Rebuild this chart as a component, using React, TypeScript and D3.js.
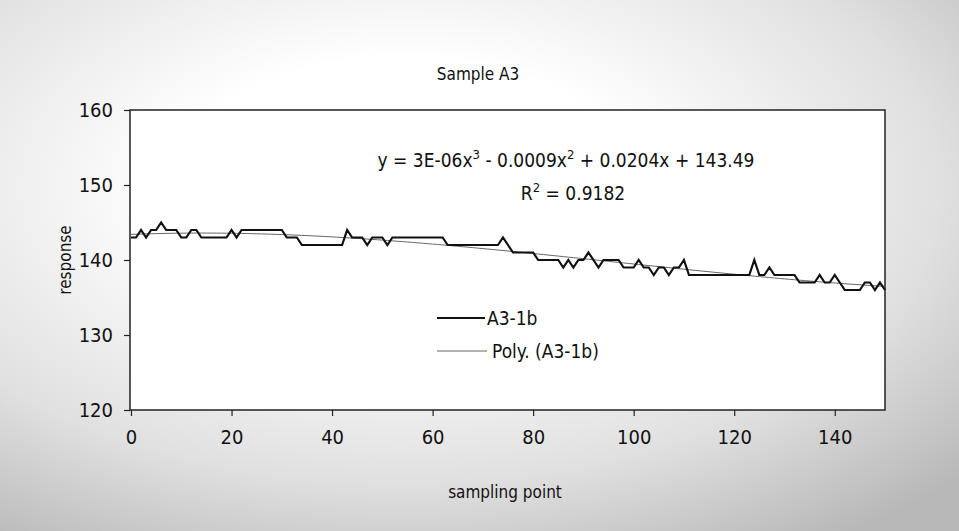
import React, { useEffect, useRef } from 'react';
import * as d3 from 'd3';

// A3-1b readings, one per sampling point (0..150)
const response = [
  143, 143, 144, 143, 144, 144, 145, 144, 144, 144,
  143, 143, 144, 144, 143, 143, 143, 143, 143, 143,
  144, 143, 144, 144, 144, 144, 144, 144, 144, 144,
  144, 143, 143, 143, 142, 142, 142, 142, 142, 142,
  142, 142, 142, 144, 143, 143, 143, 142, 143, 143,
  143, 142, 143, 143, 143, 143, 143, 143, 143, 143,
  143, 143, 143, 142, 142, 142, 142, 142, 142, 142,
  142, 142, 142, 142, 143, 142, 141, 141, 141, 141,
  141, 140, 140, 140, 140, 140, 139, 140, 139, 140,
  140, 141, 140, 139, 140, 140, 140, 140, 139, 139,
  139, 140, 139, 139, 138, 139, 139, 138, 139, 139,
  140, 138, 138, 138, 138, 138, 138, 138, 138, 138,
  138, 138, 138, 138, 140, 138, 138, 139, 138, 138,
  138, 138, 138, 137, 137, 137, 137, 138, 137, 137,
  138, 137, 136, 136, 136, 136, 137, 137, 136, 137,
  136
];
const xTicks = [0, 20, 40, 60, 80, 100, 120, 140];
const yTicks = [120, 130, 140, 150, 160];
const title = 'Sample A3';
const seriesName = 'A3-1b';
const trendName = 'Poly. (A3-1b)';

// least squares polynomial, same thing Excel's trendline does
function polyFit(xs: number[], ys: number[], deg: number) {
  const n = deg + 1;
  const m: number[][] = [];
  for (let r = 0; r < n; r++) {
    const row: number[] = [];
    for (let c = 0; c < n; c++) row.push(d3.sum(xs, (x) => Math.pow(x, r + c)));
    row.push(d3.sum(xs, (x, i) => Math.pow(x, r) * ys[i]));
    m.push(row);
  }
  for (let i = 0; i < n; i++) {
    let p = i;
    for (let k = i + 1; k < n; k++) if (Math.abs(m[k][i]) > Math.abs(m[p][i])) p = k;
    [m[i], m[p]] = [m[p], m[i]];
    for (let k = i + 1; k < n; k++) {
      const f = m[k][i] / m[i][i];
      for (let c = i; c <= n; c++) m[k][c] -= f * m[i][c];
    }
  }
  const coef = new Array(n).fill(0);
  for (let i = n - 1; i >= 0; i--) {
    let s = m[i][n];
    for (let c = i + 1; c < n; c++) s -= m[i][c] * coef[c];
    coef[i] = s / m[i][i];
  }
  return (x: number) => coef.reduce((acc, a, i) => acc + a * Math.pow(x, i), 0);
}

const W = 959, H = 531;
const FONT = '"DejaVu Sans Condensed", "DejaVu Sans", sans-serif';

export default function App() {
  const ref = useRef<SVGSVGElement>(null);

  useEffect(() => {
    const svg = d3.select(ref.current);
    svg.selectAll('*').remove();

    const left = 131, right = 885, top = 110, bottom = 410;
    const x = d3.scaleLinear().domain([0, 150]).range([left, right]);
    const y = d3.scaleLinear().domain([120, 160]).range([bottom, top]);

    const defs = svg.append('defs');
    const grad = defs.append('radialGradient').attr('id', 'bg')
      .attr('cx', '0.42').attr('cy', '0.35').attr('r', '0.8');
    grad.append('stop').attr('offset', '0.3').attr('stop-color', '#ffffff');
    grad.append('stop').attr('offset', '0.7').attr('stop-color', '#e0e0e0');
    grad.append('stop').attr('offset', '1').attr('stop-color', '#b8b8b8');
    svg.append('rect').attr('width', W).attr('height', H).attr('fill', 'url(#bg)');

    svg.append('rect')
      .attr('x', left - 1).attr('y', top)
      .attr('width', right - left + 1).attr('height', bottom - top)
      .attr('fill', '#fff').attr('stroke', '#222').attr('stroke-width', 1.5);

    const xs = response.map((_, i) => i);
    const fit = polyFit(xs, response, 3);

    const line = d3.line<number>().x((d, i) => x(i)).y((d) => y(d));
    const trendLine = d3.line<number>().x((d) => x(d)).y((d) => y(fit(d)));

    svg.append('path').datum(xs)
      .attr('d', trendLine)
      .attr('fill', 'none').attr('stroke', '#666').attr('stroke-width', 1);

    svg.append('path').datum(response)
      .attr('d', line)
      .attr('fill', 'none').attr('stroke', '#111').attr('stroke-width', 2.2)
      .attr('stroke-linejoin', 'miter');

    // axes
    const xAxis = svg.append('g').attr('transform', `translate(0,${bottom})`)
      .call(d3.axisBottom(x).tickValues(xTicks).tickSize(6).tickPadding(14).tickFormat(d3.format('d')));
    const yAxis = svg.append('g').attr('transform', `translate(${left - 1},0)`)
      .call(d3.axisLeft(y).tickValues(yTicks).tickSize(6).tickPadding(11).tickFormat(d3.format('d')));
    [xAxis, yAxis].forEach((g) => {
      g.select('.domain').remove();
      g.selectAll('line').attr('stroke', '#222').attr('stroke-width', 1.2);
      g.selectAll('text').attr('font-family', FONT).attr('font-size', 20).attr('fill', '#111');
    });

    svg.append('text').attr('x', 478).attr('y', 80).attr('text-anchor', 'middle')
      .attr('font-family', FONT).attr('font-size', 17).attr('fill', '#111').text(title);
    svg.append('text').attr('x', 505).attr('y', 498).attr('text-anchor', 'middle')
      .attr('font-family', FONT).attr('font-size', 17).attr('fill', '#111').text('sampling point');
    svg.append('text').attr('transform', 'translate(71,260) rotate(-90)').attr('text-anchor', 'middle')
      .attr('font-family', FONT).attr('font-size', 17).attr('fill', '#111').text('response');

    // equation label
    const eq = svg.append('text').attr('x', 566).attr('y', 167).attr('text-anchor', 'middle')
      .attr('font-family', FONT).attr('font-size', 19).attr('fill', '#111');
    eq.append('tspan').text('y = 3E-06x');
    eq.append('tspan').attr('dy', -8).attr('font-size', 13).text('3');
    eq.append('tspan').attr('dy', 8).text(' - 0.0009x');
    eq.append('tspan').attr('dy', -8).attr('font-size', 13).text('2');
    eq.append('tspan').attr('dy', 8).text(' + 0.0204x + 143.49');

    const r2 = svg.append('text').attr('x', 573).attr('y', 200).attr('text-anchor', 'middle')
      .attr('font-family', FONT).attr('font-size', 19).attr('fill', '#111');
    r2.append('tspan').text('R');
    r2.append('tspan').attr('dy', -8).attr('font-size', 13).text('2');
    r2.append('tspan').attr('dy', 8).text(' = 0.9182');

    // legend
    const lg = svg.append('g');
    lg.append('line').attr('x1', 437).attr('x2', 485).attr('y1', 318).attr('y2', 318)
      .attr('stroke', '#111').attr('stroke-width', 2.2);
    lg.append('text').attr('x', 487).attr('y', 325)
      .attr('font-family', FONT).attr('font-size', 19).attr('fill', '#111').text(seriesName);
    lg.append('line').attr('x1', 437).attr('x2', 487).attr('y1', 351).attr('y2', 351)
      .attr('stroke', '#666').attr('stroke-width', 1);
    lg.append('text').attr('x', 492).attr('y', 358)
      .attr('font-family', FONT).attr('font-size', 19).attr('fill', '#111').text(trendName);
  }, []);

  return (
    <svg ref={ref} width={W} height={H} style={{ position: 'absolute', left: 0, top: 0 }} />
  );
}
